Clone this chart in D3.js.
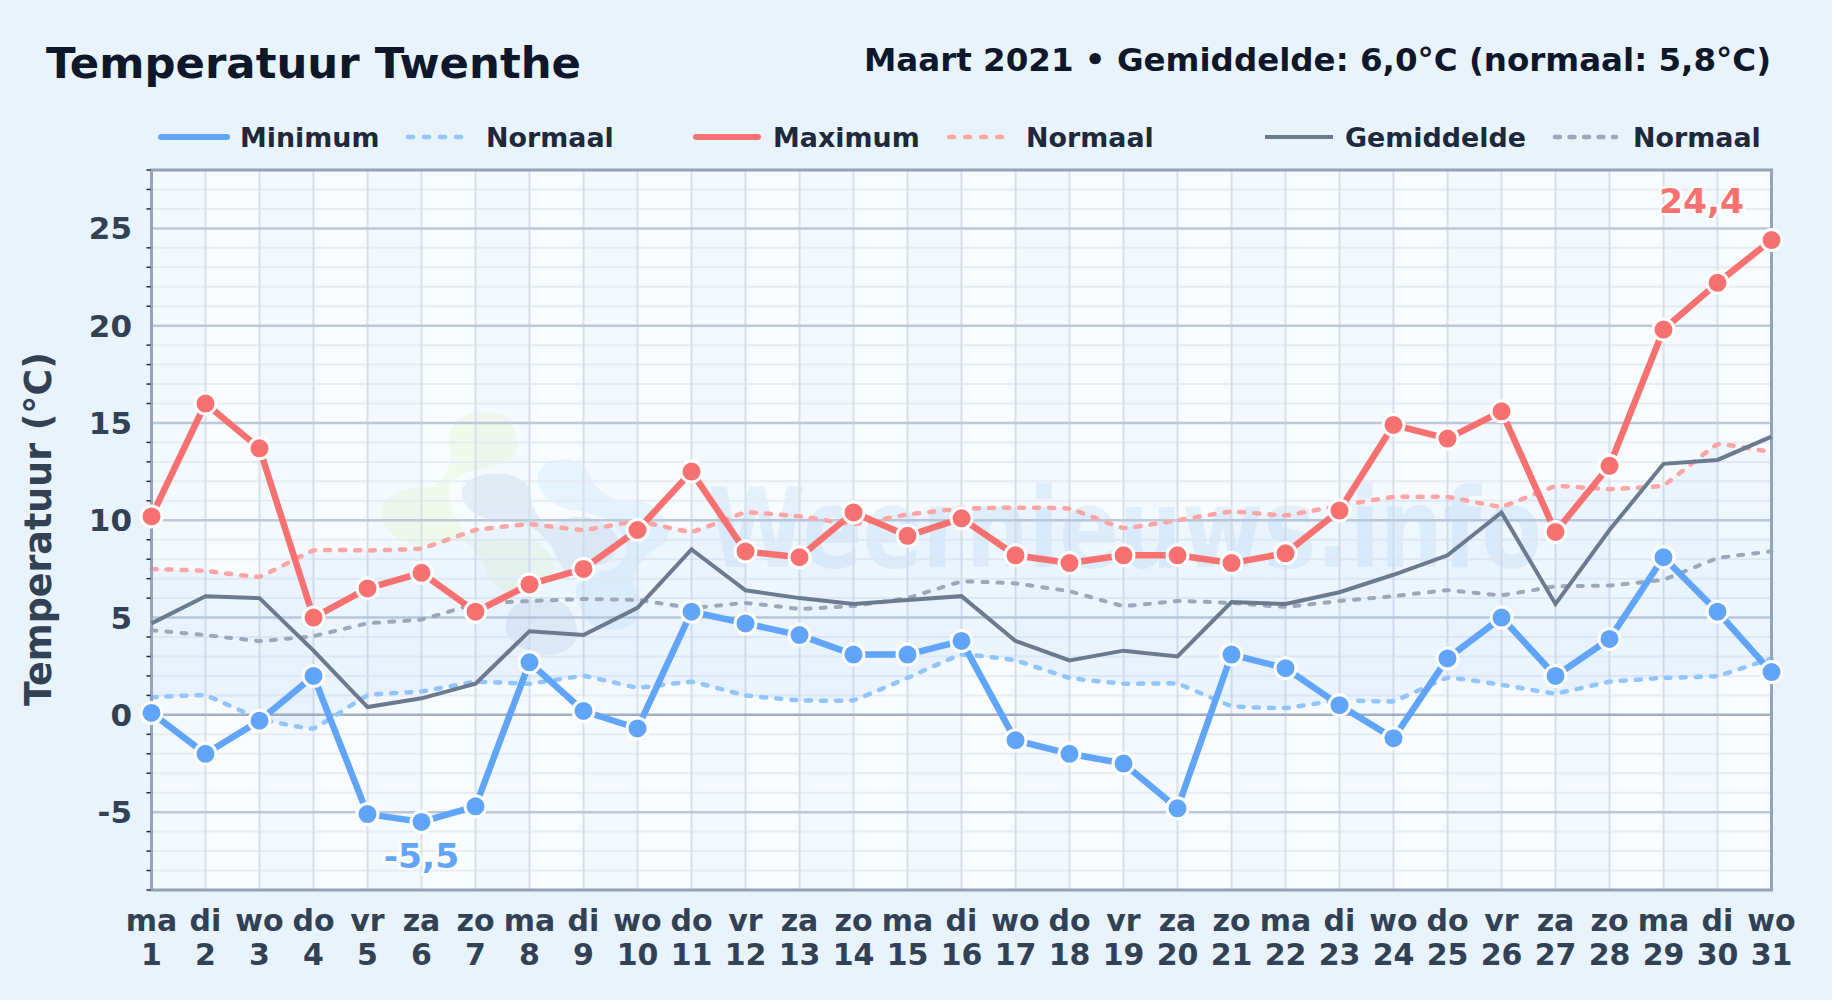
<!DOCTYPE html>
<html lang="nl"><head><meta charset="utf-8"><title>Temperatuur Twenthe</title>
<script src="https://cdn.jsdelivr.net/npm/d3@7/dist/d3.min.js"></script>
<style>html,body{margin:0;padding:0;background:#e8f3fc}svg{display:block}text{font-family:"DejaVu Sans",sans-serif;font-weight:700}</style>
</head><body><svg id="c" width="1832" height="1000"></svg>
<script>
const weekdays=["ma","di","wo","do","vr","za","zo","ma","di","wo","do","vr","za","zo","ma","di","wo","do","vr","za","zo","ma","di","wo","do","vr","za","zo","ma","di","wo"];
const days=d3.range(1,32);
const minimum=[0.1,-2.0,-0.3,2.0,-5.1,-5.5,-4.7,2.7,0.2,-0.7,5.3,4.7,4.1,3.1,3.1,3.8,-1.3,-2.0,-2.5,-4.8,3.1,2.4,0.5,-1.2,2.9,5.0,2.0,3.9,8.1,5.3,2.2];
const maximum=[10.2,16.0,13.7,5.0,6.5,7.3,5.3,6.7,7.5,9.5,12.5,8.4,8.1,10.4,9.2,10.1,8.2,7.8,8.2,8.2,7.8,8.3,10.5,14.9,14.2,15.6,9.4,12.8,19.8,22.2,24.4];
const gemiddelde=[4.7,6.1,6.0,3.3,0.4,0.85,1.6,4.3,4.1,5.5,8.5,6.4,6.0,5.7,5.9,6.1,3.8,2.8,3.3,3.0,5.8,5.7,6.3,7.2,8.2,10.4,5.7,9.5,12.9,13.1,14.3];
const normaalMin=[0.9,1.0,-0.2,-0.7,1.0,1.2,1.7,1.6,2.0,1.4,1.7,1.0,0.75,0.75,1.9,3.1,2.8,1.9,1.6,1.6,0.45,0.35,0.75,0.7,1.9,1.55,1.1,1.7,1.9,2.0,2.9];
const normaalMax=[7.5,7.4,7.1,8.45,8.45,8.55,9.5,9.8,9.5,9.95,9.4,10.4,10.2,9.8,10.3,10.6,10.65,10.6,9.6,10.0,10.45,10.25,10.75,11.2,11.2,10.7,11.75,11.6,11.8,13.9,13.5];
const normaalGem=[4.35,4.1,3.8,4.05,4.7,4.9,5.7,5.85,5.95,5.9,5.5,5.75,5.45,5.6,6.0,6.85,6.75,6.35,5.6,5.85,5.75,5.55,5.85,6.1,6.4,6.15,6.6,6.65,6.95,8.05,8.4];
const majorTicks=[-5,0,5,10,15,20,25];
const minorTicks=d3.range(-9,29).filter(v=>v%5!==0);
const legendLabels=["Minimum","Normaal","Maximum","Normaal","Gemiddelde","Normaal"];

const L=151.5,R=1771.5,T=170,B=890;
const svg=d3.select("#c");
const x=d3.scaleLinear().domain([1,31]).range([L,R]);
const y=d3.scaleLinear().domain([-9,28]).range([B,T]);
const defs=svg.append("defs");
const g1=defs.append("linearGradient").attr("id","band").attr("x1",0).attr("x2",0).attr("y1",0).attr("y2",1);
g1.append("stop").attr("offset",0).attr("stop-color","#60a5fa").attr("stop-opacity",.05);
g1.append("stop").attr("offset",1).attr("stop-color","#60a5fa").attr("stop-opacity",.09);

svg.append("rect").attr("width",1832).attr("height",1000).attr("fill","#e8f3fc");
svg.append("rect").attr("x",L).attr("y",T).attr("width",R-L).attr("height",B-T).attr("fill","#f8fcff");
svg.append("g").selectAll("rect").data(days.slice(0,30).filter(d=>d%2===1)).join("rect")
  .attr("x",d=>x(d)).attr("y",T).attr("width",x(2)-x(1)).attr("height",B-T).attr("fill","#dbe7f5").attr("opacity",.13);

// watermark logo
const wm=svg.append("g").attr("transform","translate(370,400) scale(0.3333)");
const blob=d3.line().curve(d3.curveCatmullRomClosed.alpha(.5));
const logo=[
 ["#bef264",.12,[[240,90],[290,45],[400,45],[440,110],[430,170],[350,205],[300,215],[250,240],[240,300],[270,370],[310,420],[400,415],[500,425],[550,490],[530,550],[480,570],[400,570],[360,540],[330,470],[270,420],[180,440],[90,420],[35,360],[40,310],[100,270],[200,250],[240,190]]],
 ["#6f9bc8",.14,[[275,270],[320,230],[420,225],[475,260],[490,320],[530,370],[620,350],[700,370],[745,420],[720,480],[670,500],[590,520],[570,490],[530,420],[460,370],[370,360],[300,330]]],
 ["#6f9bc8",.14,[[410,660],[430,620],[500,600],[580,610],[610,650],[620,710],[590,750],[520,765],[450,740],[410,700]]],
 ["#8fcdf8",.17,[[505,220],[540,185],[610,180],[650,210],[680,260],[740,300],[830,310],[890,370],[890,420],[850,450],[810,490],[790,530],[810,620],[790,670],[720,690],[660,670],[630,620],[620,560],[670,520],[740,500],[770,440],[730,370],[660,340],[570,320],[510,270]]]
];
logo.forEach(b=>wm.append("path").attr("fill",b[0]).attr("opacity",b[1]).attr("d",blob(b[2])));
svg.append("text").attr("x",708).attr("y",567).attr("font-size",110).attr("textLength",834).attr("lengthAdjust","spacingAndGlyphs").attr("fill","#5aa5e6").attr("opacity",.12).text("Weernieuws.info");

// grid
const gGrid=svg.append("g");
gGrid.selectAll(".mn").data(minorTicks).join("line").attr("class","mn").attr("x1",L).attr("x2",R).attr("y1",d=>y(d)).attr("y2",d=>y(d)).attr("stroke","#e6ecf3").attr("stroke-width",2);
gGrid.selectAll(".v").data(days).join("line").attr("class","v").attr("x1",d=>x(d)).attr("x2",d=>x(d)).attr("y1",T).attr("y2",B).attr("stroke","#d8e0ea").attr("stroke-width",2);
gGrid.selectAll(".mj").data(majorTicks).join("line").attr("class","mj").attr("x1",L).attr("x2",R).attr("y1",d=>y(d)).attr("y2",d=>y(d)).attr("stroke",d=>d===0?"#a3afc0":"#bcc8d9").attr("stroke-width",2.5);

// band
const smooth=d3.curveCardinal.tension(.75);
svg.append("path").datum(days).attr("fill","url(#band)")
 .attr("d",d3.area().curve(smooth).x(d=>x(d)).y0(d=>y(normaalMin[d-1])).y1(d=>y(normaalMax[d-1])));

const ln=vals=>d3.line().x((d,i)=>x(i+1)).y(d=>y(d))(vals);
const lnS=vals=>d3.line().curve(smooth).x((d,i)=>x(i+1)).y(d=>y(d))(vals);
const dashed=[[normaalMin,"#93c5fd",4.5],[normaalMax,"#fca5a5",4.5],[normaalGem,"#9aa8ba",4]];
svg.append("g").selectAll("path").data(dashed).join("path").attr("d",d=>lnS(d[0])).attr("fill","none").attr("stroke",d=>d[1]).attr("stroke-width",d=>d[2]).attr("stroke-dasharray","5 10").attr("stroke-linecap","round");

// frame & axes
svg.append("rect").attr("x",L).attr("y",T).attr("width",R-L).attr("height",B-T).attr("fill","none").attr("stroke","#94a3b8").attr("stroke-width",3);
svg.append("g").selectAll("line").data(minorTicks).join("line").attr("x1",L-5).attr("x2",L-1).attr("y1",d=>y(d)).attr("y2",d=>y(d)).attr("stroke","#1e293b").attr("stroke-width",1.5);

// series
svg.append("path").attr("d",ln(gemiddelde)).attr("fill","none").attr("stroke","#6b7a8f").attr("stroke-width",4);
const solid=[[minimum,"#60a5fa"],[maximum,"#f87171"]];
solid.forEach(([vals,col])=>{
  svg.append("path").attr("d",ln(vals)).attr("fill","none").attr("stroke",col).attr("stroke-width",6.5).attr("stroke-linejoin","round");
  svg.append("g").selectAll("circle").data(vals).join("circle").attr("cx",(d,i)=>x(i+1)).attr("cy",d=>y(d)).attr("r",10.5).attr("fill",col).attr("stroke","#fff").attr("stroke-width",3);
});

// text
const txt=(xx,yy,s,size,fill,anchor)=>svg.append("text").attr("x",xx).attr("y",yy).attr("font-size",size).attr("fill",fill).attr("text-anchor",anchor||"start").text(s);
txt(46,78,"Temperatuur Twenthe",43.4,"#0f172a");
txt(1771,71,"Maart 2021 • Gemiddelde: 6,0°C (normaal: 5,8°C)",32.5,"#0f172a","end");
svg.append("g").selectAll("text").data(majorTicks).join("text").attr("x",132).attr("y",d=>y(d)+11).attr("text-anchor","end").attr("font-size",31).attr("fill","#334155").text(d=>d);
svg.append("text").attr("transform","translate(51,529) rotate(-90)").attr("text-anchor","middle").attr("font-size",36.4).attr("fill","#334155").text("Temperatuur (°C)");
svg.append("g").selectAll("text").data(days).join("text").attr("x",d=>x(d)).attr("y",931).attr("text-anchor","middle").attr("font-size",30).attr("fill","#334155").text(d=>weekdays[d-1]);
svg.append("g").selectAll("text").data(days).join("text").attr("x",d=>x(d)).attr("y",965).attr("text-anchor","middle").attr("font-size",30).attr("fill","#334155").text(d=>d);

// legend
const lg=[[161,227,240,"#60a5fa",6,null],[408,462,486,"#93c5fd",4.5,"5 11"],[696,758,773,"#f87171",6,null],[949,1003,1026,"#fca5a5",4.5,"5 11"],[1265,1333,1345,"#6b7a8f",4,null],[1555,1616,1633,"#9aa8ba",4.5,"5 9.5"]];
lg.forEach((d,i)=>{
  svg.append("line").attr("x1",d[0]).attr("x2",d[1]).attr("y1",137).attr("y2",137).attr("stroke",d[3]).attr("stroke-width",d[4]).attr("stroke-linecap",i===4?"butt":"round").attr("stroke-dasharray",d[5]);
  txt(d[2],147,legendLabels[i],26.9,"#1e293b");
});

// extremes
const ext=(xx,yy,s,fill)=>svg.append("text").attr("x",xx).attr("y",yy).attr("text-anchor","middle").attr("font-size",34.5).attr("fill",fill).attr("stroke","#fff").attr("stroke-width",5).attr("paint-order","stroke").attr("stroke-opacity",.85).text(s);
ext(x(30)-16,213,d3.format(".1f")(d3.max(maximum)).replace(".",","),"#f87171");
ext(x(6),868,d3.format(".1f")(d3.min(minimum)).replace(".",",").replace("−","-"),"#60a5fa");
</script></body></html>
